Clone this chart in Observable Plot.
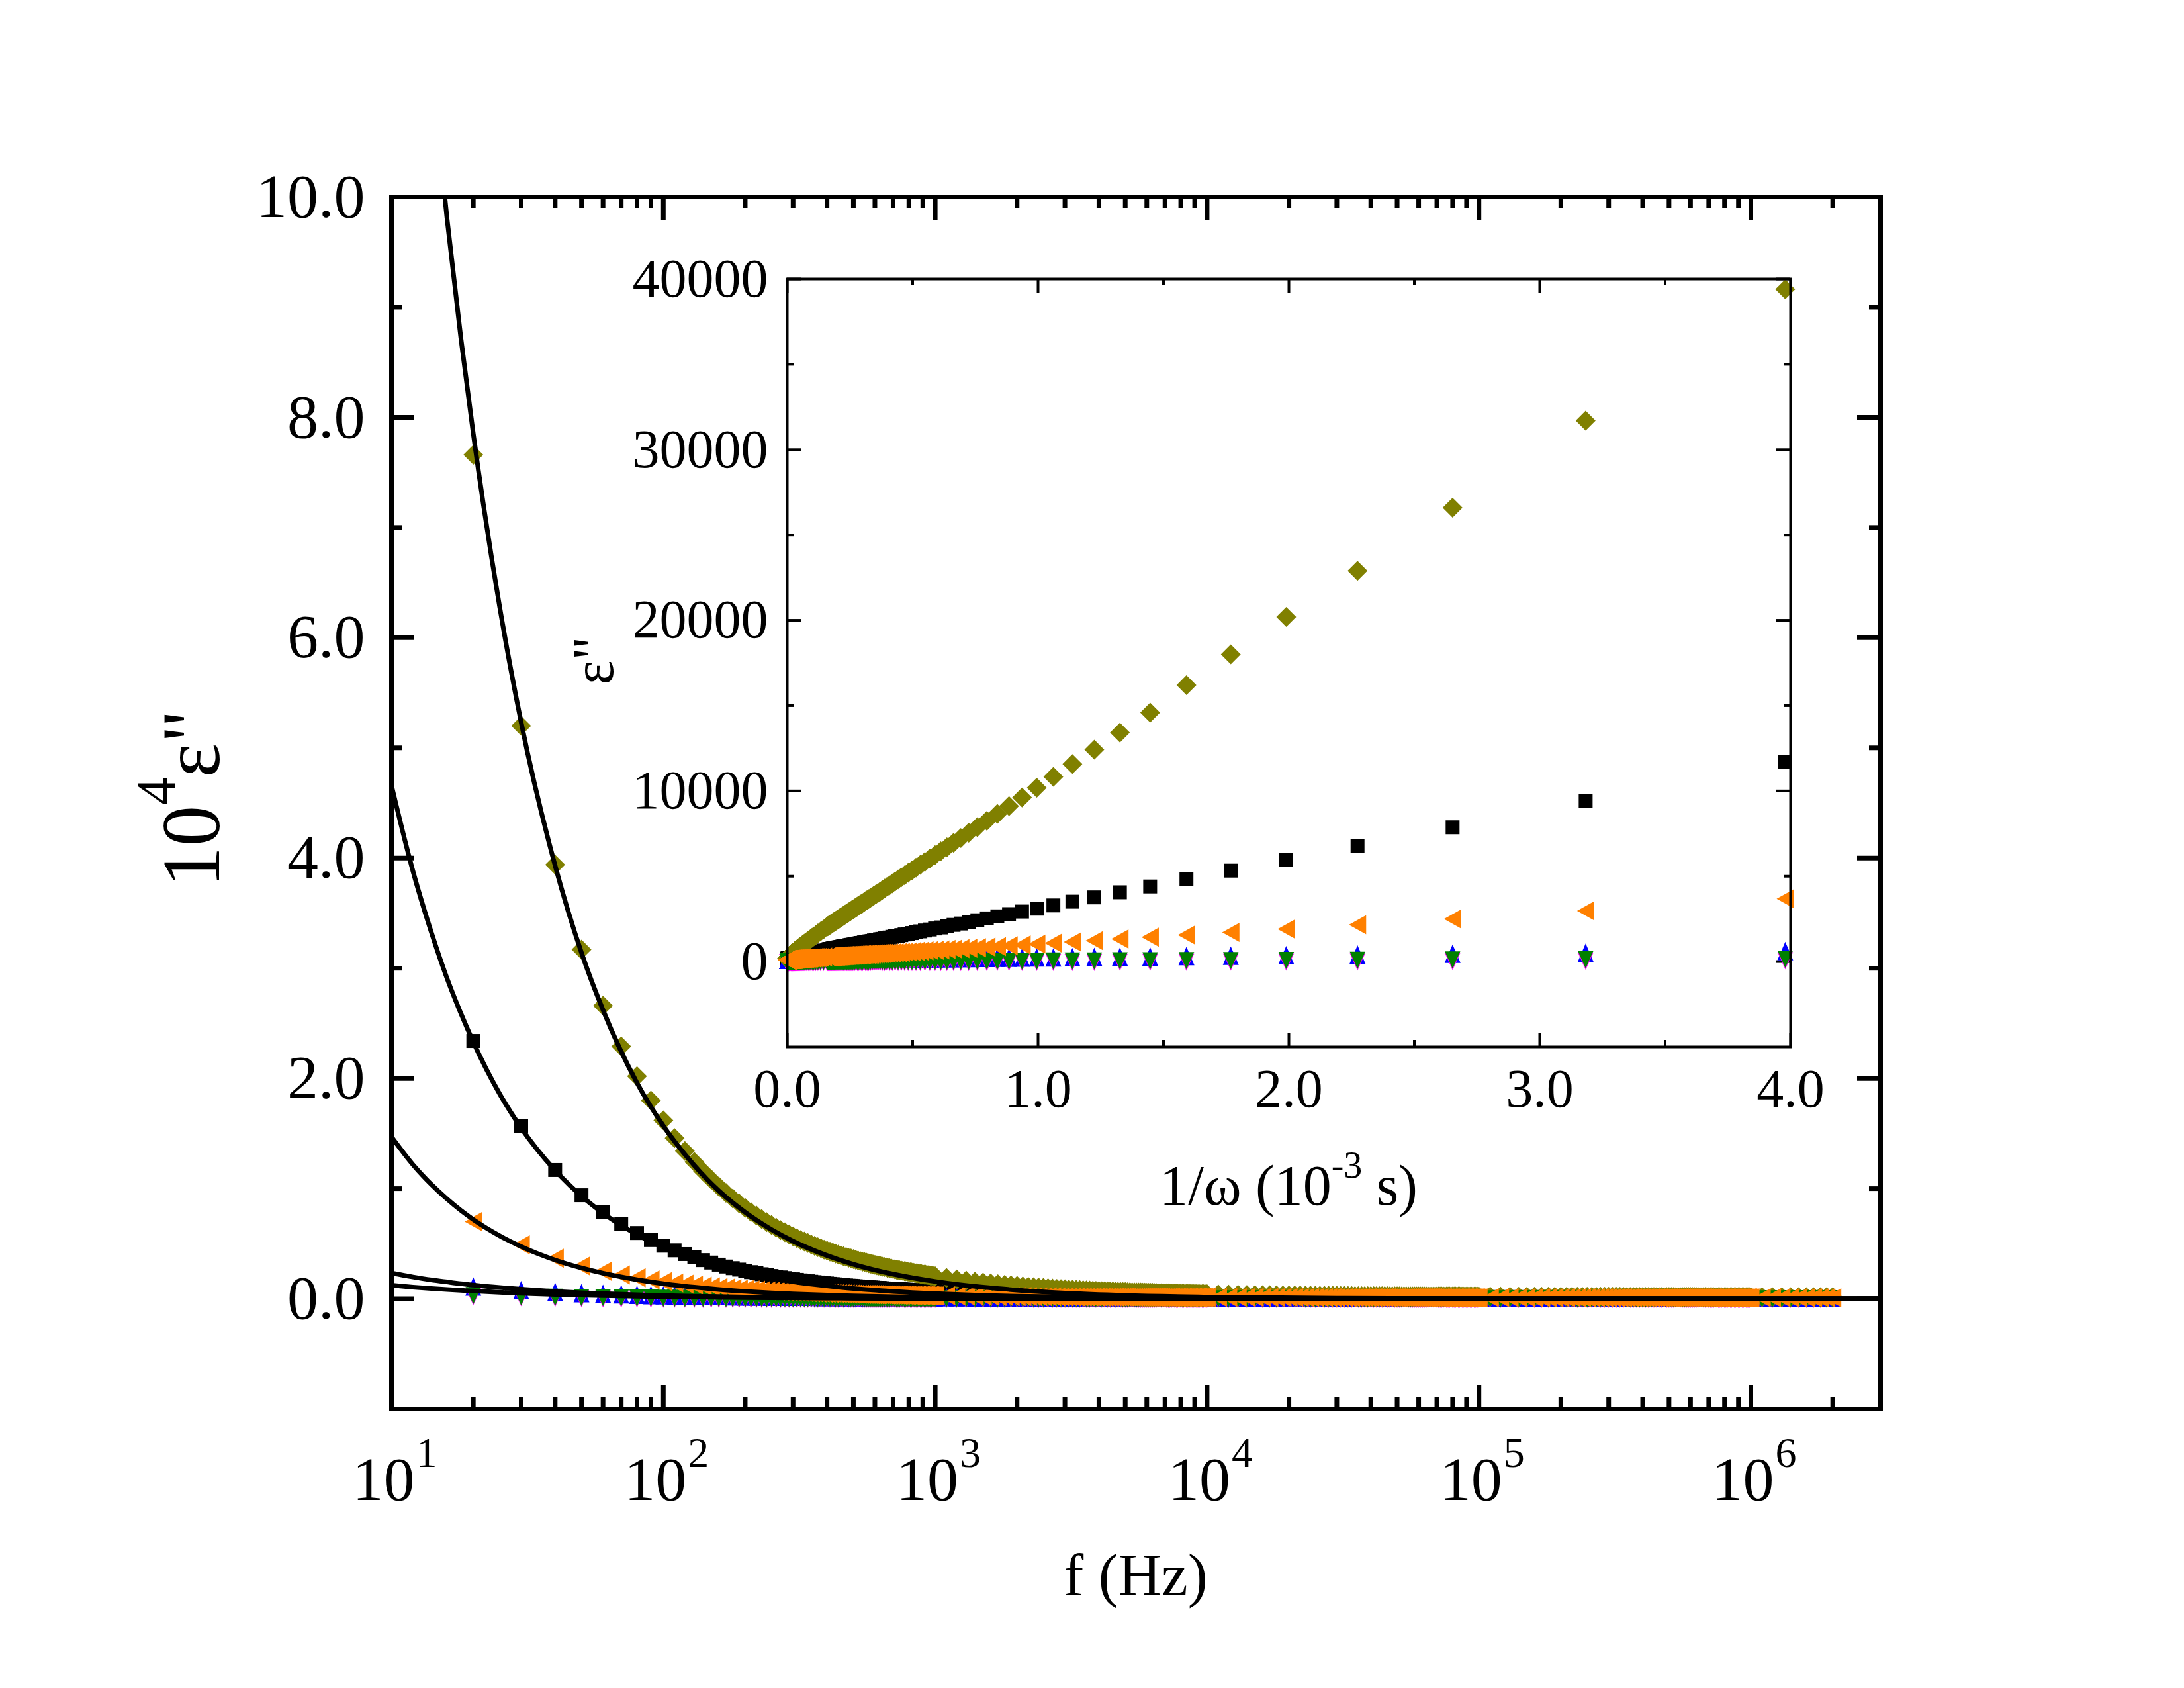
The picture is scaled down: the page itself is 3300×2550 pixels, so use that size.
<!DOCTYPE html>
<html>
<head>
<meta charset="utf-8">
<script src="https://cdn.jsdelivr.net/npm/d3@7"></script>
<script src="https://cdn.jsdelivr.net/npm/@observablehq/plot@0.6"></script>
<style>
  html, body { margin: 0; padding: 0; background: #fff; }
  #chart { position: relative; width: 3300px; height: 2550px; background: #fff; }
  #chart svg { position: absolute; left: 0; top: 0; }
</style>
</head>
<body>
<div id="chart"></div>
<script>
// ---------------------------------------------------------------------------
// Measured frequencies (Hz)
const freqHz = [
  20, 30, 40, 50, 60, 70, 80, 90, 100,
  110, 120, 130, 140, 150, 160, 170, 180, 190, 200,
  210, 220, 230, 240, 250, 260, 270, 280, 290, 300,
  310, 320, 330, 340, 350, 360, 370, 380, 390, 400,
  410, 420, 430, 440, 450, 460, 470, 480, 490, 500,
  510, 520, 530, 540, 550, 560, 570, 580, 590, 600,
  610, 620, 630, 640, 650, 660, 670, 680, 690, 700,
  710, 720, 730, 740, 750, 760, 770, 780, 790, 800,
  810, 820, 830, 840, 850, 860, 870, 880, 890, 900,
  910, 920, 930, 940, 950, 960, 970, 980, 990, 1000,
  1100, 1200, 1300, 1400, 1500, 1600, 1700, 1800, 1900, 2000,
  2100, 2200, 2300, 2400, 2500, 2600, 2700, 2800, 2900, 3000,
  3100, 3200, 3300, 3400, 3500, 3600, 3700, 3800, 3900, 4000,
  4100, 4200, 4300, 4400, 4500, 4600, 4700, 4800, 4900, 5000,
  5100, 5200, 5300, 5400, 5500, 5600, 5700, 5800, 5900, 6000,
  6100, 6200, 6300, 6400, 6500, 6600, 6700, 6800, 6900, 7000,
  7100, 7200, 7300, 7400, 7500, 7600, 7700, 7800, 7900, 8000,
  8100, 8200, 8300, 8400, 8500, 8600, 8700, 8800, 8900, 9000,
  9100, 9200, 9300, 9400, 9500, 9600, 9700, 9800, 9900, 10000,
  11000, 12000, 13000, 14000, 15000, 16000, 17000, 18000, 19000, 20000,
  21000, 22000, 23000, 24000, 25000, 26000, 27000, 28000, 29000, 30000,
  31000, 32000, 33000, 34000, 35000, 36000, 37000, 38000, 39000, 40000,
  41000, 42000, 43000, 44000, 45000, 46000, 47000, 48000, 49000, 50000,
  51000, 52000, 53000, 54000, 55000, 56000, 57000, 58000, 59000, 60000,
  61000, 62000, 63000, 64000, 65000, 66000, 67000, 68000, 69000, 70000,
  71000, 72000, 73000, 74000, 75000, 76000, 77000, 78000, 79000, 80000,
  81000, 82000, 83000, 84000, 85000, 86000, 87000, 88000, 89000, 90000,
  91000, 92000, 93000, 94000, 95000, 96000, 97000, 98000, 99000, 100000,
  110000, 120000, 130000, 140000, 150000, 160000, 170000, 180000, 190000, 200000,
  210000, 220000, 230000, 240000, 250000, 260000, 270000, 280000, 290000, 300000,
  310000, 320000, 330000, 340000, 350000, 360000, 370000, 380000, 390000, 400000,
  410000, 420000, 430000, 440000, 450000, 460000, 470000, 480000, 490000, 500000,
  510000, 520000, 530000, 540000, 550000, 560000, 570000, 580000, 590000, 600000,
  610000, 620000, 630000, 640000, 650000, 660000, 670000, 680000, 690000, 700000,
  710000, 720000, 730000, 740000, 750000, 760000, 770000, 780000, 790000, 800000,
  810000, 820000, 830000, 840000, 850000, 860000, 870000, 880000, 890000, 900000,
  910000, 920000, 930000, 940000, 950000, 960000, 970000, 980000, 990000, 1000000,
  1100000, 1200000, 1300000, 1400000, 1500000, 1600000, 1700000, 1800000, 1900000, 2000000
];

// Dielectric loss ε'' of each sample, one value per frequency above
const epsOlive = [
  76600, 52000, 39400, 31700, 26600, 22900, 20200, 18000, 16200,
  14590, 13420, 12420, 11570, 10830, 10190, 9620, 9110, 8660, 8250,
  7880, 7550, 7240, 6960, 6700, 6460, 6240, 6040, 5840, 5670,
  5500, 5340, 5200, 5060, 4930, 4810, 4690, 4580, 4470, 4380,
  4280, 4190, 4100, 4020, 3940, 3870, 3800, 3730, 3660, 3600,
  3540, 3480, 3420, 3370, 3320, 3270, 3220, 3170, 3130, 3080,
  3040, 3000, 2960, 2920, 2880, 2850, 2810, 2780, 2750, 2710,
  2680, 2650, 2620, 2590, 2570, 2540, 2510, 2490, 2460, 2440,
  2410, 2390, 2370, 2350, 2320, 2300, 2280, 2260, 2240, 2220,
  2200, 2190, 2170, 2150, 2130, 2110, 2100, 2080, 2070, 2050,
  1890, 1760, 1650, 1550, 1470, 1400, 1330, 1270, 1220, 1170,
  1130, 1090, 1050, 1020, 990, 960, 940, 910, 890, 870,
  850, 830, 810, 800, 780, 770, 750, 740, 720, 710,
  700, 690, 680, 670, 660, 650, 640, 630, 620, 620,
  610, 600, 590, 590, 580, 570, 570, 560, 560, 550,
  550, 540, 540, 530, 530, 520, 520, 510, 510, 500,
  500, 500, 490, 490, 490, 480, 480, 470, 470, 470,
  460, 460, 460, 460, 450, 450, 450, 440, 440, 440,
  440, 430, 430, 430, 430, 420, 420, 420, 420, 420,
  400, 380, 370, 350, 340, 330, 330, 320, 310, 310,
  300, 300, 290, 290, 280, 280, 270, 270, 270, 270,
  260, 260, 260, 260, 250, 250, 250, 250, 250, 240,
  240, 240, 240, 240, 240, 240, 230, 230, 230, 230,
  230, 230, 230, 230, 220, 220, 220, 220, 220, 220,
  220, 220, 220, 220, 220, 220, 210, 210, 210, 210,
  210, 210, 210, 210, 210, 210, 210, 210, 210, 210,
  210, 210, 210, 210, 210, 210, 200, 200, 200, 200,
  200, 200, 200, 200, 200, 200, 200, 200, 200, 200,
  200, 200, 190, 190, 190, 190, 190, 190, 180, 180,
  180, 180, 180, 180, 180, 180, 180, 180, 180, 180,
  180, 180, 180, 180, 170, 170, 170, 170, 170, 170,
  170, 170, 170, 170, 170, 170, 170, 170, 170, 170,
  170, 170, 170, 170, 170, 170, 170, 170, 170, 170,
  170, 170, 170, 170, 170, 170, 170, 170, 170, 160,
  160, 160, 160, 160, 160, 160, 160, 160, 160, 160,
  160, 160, 160, 160, 160, 160, 160, 160, 160, 160,
  160, 160, 160, 160, 160, 160, 160, 160, 160, 160,
  160, 160, 160, 160, 160, 160, 160, 160, 160, 160
];

const epsBlack = [
  23400, 15700, 11690, 9400, 7870, 6780, 5970, 5330, 4820,
  4400, 4060, 3760, 3510, 3290, 3100, 2930, 2780, 2650, 2530,
  2420, 2320, 2230, 2150, 2070, 2000, 1940, 1880, 1820, 1770,
  1720, 1670, 1630, 1590, 1550, 1510, 1480, 1450, 1410, 1390,
  1360, 1330, 1310, 1280, 1260, 1240, 1210, 1190, 1180, 1160,
  1140, 1120, 1100, 1090, 1070, 1060, 1040, 1030, 1020, 1000,
  990, 980, 970, 960, 940, 930, 920, 910, 900, 890,
  890, 880, 870, 860, 850, 840, 830, 830, 820, 810,
  810, 800, 790, 790, 780, 770, 770, 760, 750, 750,
  740, 740, 730, 730, 720, 720, 710, 710, 700, 700,
  650, 610, 580, 550, 530, 510, 490, 470, 460, 440,
  430, 420, 410, 400, 390, 380, 380, 370, 360, 360,
  350, 340, 340, 330, 330, 320, 320, 320, 310, 310,
  310, 300, 300, 300, 290, 290, 290, 290, 280, 280,
  280, 280, 280, 270, 270, 270, 270, 270, 260, 260,
  260, 260, 260, 260, 260, 250, 250, 250, 250, 250,
  250, 250, 250, 250, 240, 240, 240, 240, 240, 240,
  240, 240, 240, 240, 230, 230, 230, 230, 230, 230,
  230, 230, 230, 230, 230, 230, 220, 220, 220, 220,
  220, 210, 210, 210, 200, 200, 200, 200, 190, 190,
  190, 190, 190, 190, 190, 190, 180, 180, 180, 180,
  180, 180, 180, 180, 180, 180, 180, 180, 180, 180,
  180, 180, 180, 170, 170, 170, 170, 170, 170, 170,
  170, 170, 170, 170, 170, 170, 170, 170, 170, 170,
  170, 170, 170, 170, 170, 170, 170, 170, 170, 170,
  170, 170, 170, 170, 170, 170, 170, 170, 170, 170,
  170, 170, 170, 170, 170, 160, 160, 160, 160, 160,
  160, 160, 160, 160, 160, 160, 160, 160, 160, 160,
  160, 160, 160, 160, 160, 160, 160, 160, 160, 160,
  160, 160, 160, 160, 160, 160, 160, 160, 160, 160,
  160, 160, 160, 160, 160, 160, 160, 160, 160, 160,
  160, 160, 160, 160, 160, 160, 160, 160, 160, 160,
  150, 150, 150, 150, 150, 150, 150, 150, 150, 150,
  150, 150, 150, 150, 150, 150, 150, 150, 150, 150,
  150, 150, 150, 150, 150, 150, 150, 150, 150, 150,
  150, 150, 150, 150, 150, 150, 150, 150, 150, 150,
  150, 150, 150, 150, 150, 150, 150, 150, 150, 150,
  150, 150, 150, 150, 150, 150, 150, 150, 150, 150
];

const epsOrange = [
  7000, 4900, 3680, 2970, 2500, 2160, 1910, 1710, 1560,
  1430, 1320, 1230, 1150, 1080, 1020, 970, 930, 880, 850,
  810, 780, 760, 730, 710, 680, 660, 650, 630, 610,
  600, 580, 570, 560, 540, 530, 520, 510, 500, 490,
  490, 480, 470, 460, 450, 450, 440, 430, 430, 420,
  420, 410, 410, 400, 400, 390, 390, 380, 380, 380,
  370, 370, 360, 360, 360, 350, 350, 350, 350, 340,
  340, 340, 330, 330, 330, 330, 320, 320, 320, 320,
  310, 310, 310, 310, 310, 300, 300, 300, 300, 300,
  300, 290, 290, 290, 290, 290, 290, 280, 280, 280,
  270, 250, 240, 240, 230, 220, 210, 210, 200, 200,
  200, 190, 190, 180, 180, 180, 180, 170, 170, 170,
  170, 170, 170, 160, 160, 160, 160, 160, 160, 160,
  150, 150, 150, 150, 150, 150, 150, 150, 150, 150,
  150, 140, 140, 140, 140, 140, 140, 140, 140, 140,
  140, 140, 140, 140, 140, 140, 140, 140, 130, 130,
  130, 130, 130, 130, 130, 130, 130, 130, 130, 130,
  130, 130, 130, 130, 130, 130, 130, 130, 130, 130,
  130, 130, 130, 130, 130, 130, 130, 130, 130, 130,
  130, 120, 120, 120, 120, 120, 120, 120, 120, 120,
  120, 110, 110, 110, 110, 110, 110, 110, 110, 110,
  110, 110, 110, 110, 110, 110, 110, 110, 110, 110,
  110, 110, 110, 110, 110, 110, 110, 110, 110, 110,
  110, 110, 110, 110, 110, 110, 110, 110, 110, 110,
  110, 110, 110, 110, 110, 110, 110, 110, 110, 110,
  100, 100, 100, 100, 100, 100, 100, 100, 100, 100,
  100, 100, 100, 100, 100, 100, 100, 100, 100, 100,
  100, 100, 100, 100, 100, 100, 100, 100, 100, 100,
  100, 100, 100, 100, 100, 100, 100, 100, 100, 100,
  100, 100, 100, 100, 100, 100, 100, 100, 100, 100,
  100, 100, 100, 100, 100, 100, 100, 100, 100, 100,
  100, 100, 100, 100, 100, 100, 100, 100, 100, 100,
  100, 100, 100, 100, 100, 100, 100, 100, 100, 100,
  100, 100, 100, 100, 100, 100, 100, 100, 100, 100,
  100, 100, 100, 100, 100, 100, 100, 100, 100, 100,
  100, 100, 100, 100, 100, 100, 100, 100, 100, 100,
  100, 100, 100, 100, 100, 100, 100, 100, 100, 100,
  100, 100, 100, 100, 100, 100, 100, 100, 100, 100
];

const epsBlue = [
  1120, 790, 620, 520, 460, 410, 370, 340, 320,
  300, 290, 280, 260, 250, 250, 240, 230, 230, 220,
  220, 210, 210, 200, 200, 200, 190, 190, 190, 190,
  180, 180, 180, 180, 180, 180, 170, 170, 170, 170,
  170, 170, 170, 170, 160, 160, 160, 160, 160, 160,
  160, 160, 160, 160, 160, 160, 150, 150, 150, 150,
  150, 150, 150, 150, 150, 150, 150, 150, 150, 150,
  150, 150, 150, 150, 150, 150, 150, 150, 150, 150,
  140, 140, 140, 140, 140, 140, 140, 140, 140, 140,
  140, 140, 140, 140, 140, 140, 140, 140, 140, 140,
  140, 140, 140, 130, 130, 130, 130, 130, 130, 130,
  130, 130, 130, 130, 130, 130, 130, 130, 130, 130,
  120, 120, 120, 120, 120, 120, 120, 120, 120, 120,
  120, 120, 120, 120, 120, 120, 120, 120, 120, 120,
  120, 120, 120, 120, 120, 120, 120, 120, 120, 120,
  120, 120, 120, 120, 120, 120, 120, 120, 120, 120,
  120, 120, 120, 120, 120, 120, 120, 120, 120, 120,
  120, 120, 120, 120, 120, 120, 120, 120, 120, 120,
  120, 120, 120, 120, 120, 120, 120, 120, 120, 120,
  120, 120, 120, 120, 120, 120, 120, 120, 120, 120,
  120, 120, 120, 120, 120, 120, 120, 120, 120, 120,
  120, 120, 120, 120, 120, 120, 120, 120, 120, 120,
  120, 120, 120, 120, 120, 120, 120, 120, 120, 120,
  120, 120, 120, 120, 120, 120, 120, 120, 120, 120,
  120, 120, 120, 120, 120, 120, 120, 120, 120, 120,
  120, 120, 120, 120, 120, 120, 120, 120, 120, 120,
  120, 120, 120, 120, 120, 120, 120, 120, 120, 120,
  120, 120, 120, 120, 120, 120, 120, 120, 120, 120,
  120, 120, 120, 120, 120, 120, 120, 120, 120, 120,
  120, 120, 120, 120, 120, 120, 120, 120, 120, 120,
  120, 120, 120, 120, 120, 120, 120, 120, 120, 120,
  120, 120, 120, 120, 120, 120, 120, 120, 120, 120,
  120, 120, 120, 120, 120, 120, 120, 120, 120, 120,
  120, 120, 120, 120, 120, 120, 120, 120, 120, 120,
  120, 120, 120, 120, 120, 120, 120, 120, 120, 120,
  120, 120, 120, 120, 120, 120, 120, 120, 120, 120,
  120, 120, 120, 120, 120, 120, 120, 120, 120, 120,
  120, 120, 120, 120, 120, 120, 120, 120, 120, 120
];

const epsMagenta = [
  180, 90, 40, 10, -10, -20, -30, -35, -40,
  -45, -48, -50, -52, -54, -55, -56, -57, -58, -59,
  -60, -60, -60, -60, -60, -60, -60, -60, -60, -60,
  -60, -60, -60, -60, -60, -60, -60, -60, -60, -60,
  -60, -60, -60, -60, -60, -60, -60, -60, -60, -60,
  -60, -60, -60, -60, -60, -60, -60, -60, -60, -60,
  -60, -60, -60, -60, -60, -60, -60, -60, -60, -60,
  -60, -60, -60, -60, -60, -60, -60, -60, -60, -60,
  -60, -60, -60, -60, -60, -60, -60, -60, -60, -60,
  -60, -60, -60, -60, -60, -60, -60, -60, -60, -60,
  -60, -60, -60, -60, -60, -60, -60, -60, -60, -60,
  -60, -60, -60, -60, -60, -60, -60, -60, -60, -60,
  -60, -60, -60, -60, -60, -60, -60, -60, -60, -60,
  -60, -60, -60, -60, -60, -60, -60, -60, -60, -60,
  -60, -60, -60, -60, -60, -60, -60, -60, -60, -60,
  -60, -60, -60, -60, -60, -60, -60, -60, -60, -60,
  -60, -60, -60, -60, -60, -60, -60, -60, -60, -60,
  -60, -60, -60, -60, -60, -60, -60, -60, -60, -60,
  -60, -60, -60, -60, -60, -60, -60, -60, -60, -60,
  -60, -60, -60, -60, -60, -60, -60, -60, -60, -60,
  -60, -60, -60, -60, -60, -60, -60, -60, -60, -60,
  -60, -60, -60, -60, -60, -60, -60, -60, -60, -60,
  -60, -60, -60, -60, -60, -60, -60, -60, -60, -60,
  -60, -60, -60, -60, -60, -60, -60, -60, -60, -60,
  -60, -60, -60, -60, -60, -60, -60, -60, -60, -60,
  -60, -60, -60, -60, -60, -60, -60, -60, -60, -60,
  -60, -60, -60, -60, -60, -60, -60, -60, -60, -60,
  -60, -60, -60, -60, -60, -60, -60, -60, -60, -60,
  -60, -60, -60, -60, -60, -60, -60, -60, -60, -60,
  -60, -60, -60, -60, -60, -60, -60, -60, -60, -60,
  -60, -60, -60, -60, -60, -60, -60, -60, -60, -60,
  -60, -60, -60, -60, -60, -60, -60, -60, -60, -60,
  -60, -60, -60, -60, -60, -60, -60, -60, -60, -60,
  -60, -60, -60, -60, -60, -60, -60, -60, -60, -60,
  -60, -60, -60, -60, -60, -60, -60, -60, -60, -60,
  -60, -60, -60, -60, -60, -60, -60, -60, -60, -60,
  -60, -60, -60, -60, -60, -60, -60, -60, -60, -60,
  -60, -60, -60, -60, -60, -60, -60, -60, -60, -60
];

const epsGreen = [
  290, 190, 140, 110, 90, 76, 65, 57, 50,
  45, 40, 36, 33, 30, 28, 25, 23, 22, 20,
  19, 17, 16, 15, 14, 13, 12, 11, 11, 10,
  9, 9, 8, 8, 7, 7, 6, 6, 5, 5,
  5, 4, 4, 4, 3, 3, 3, 3, 2, 2,
  2, 2, 1, 1, 1, 1, 1, 0, 0, 0,
  0, 0, 0, 0, -1, -1, -1, -1, -1, -1,
  -2, -2, -2, -2, -2, -2, -2, -2, -2, -2,
  -3, -3, -3, -3, -3, -3, -3, -3, -3, -3,
  -3, -3, -3, -4, -4, -4, -4, -4, -4, -4,
  -5, -5, -5, -5, -5, -5, -5, -5, -5, -5,
  -8, -8, -8, -8, -8, -8, -8, -8, -8, -8,
  -8, -8, -8, -8, -8, -8, -8, -8, -8, -8,
  -8, -8, -8, -8, -8, -8, -8, -8, -8, -8,
  -10, -10, -10, -10, -10, -10, -10, -10, -10, -10,
  -10, -10, -10, -10, -10, -10, -10, -10, -10, -10,
  -10, -10, -10, -10, -10, -10, -10, -10, -10, -10,
  -10, -10, -10, -10, -10, -10, -10, -10, -10, -10,
  -10, -10, -10, -10, -10, -10, -10, -10, -10, -10,
  -10, -10, -10, -10, -10, -10, -10, -10, -10, -10,
  -10, -10, -10, -10, -10, -10, -10, -10, -10, -10,
  -10, -10, -10, -10, -10, -10, -10, -10, -10, -10,
  -10, -10, -10, -10, -10, -10, -10, -10, -10, -10,
  -10, -10, -10, -10, -10, -10, -10, -10, -10, -10,
  -10, -10, -10, -10, -10, -10, -10, -10, -10, -10,
  -10, -10, -10, -10, -10, -10, -10, -10, -10, -10,
  -10, -10, -10, -10, -10, -10, -10, -10, -10, -10,
  -10, -10, -10, -10, -10, -10, -10, -10, -10, -10,
  -10, -10, -10, -10, -10, -10, -10, -10, -10, -10,
  -10, -10, -10, -10, -10, -10, -10, -10, -10, -10,
  -10, -10, -10, -10, -10, -10, -10, -10, -10, -10,
  -10, -10, -10, -10, -10, -10, -10, -10, -10, -10,
  -10, -10, -10, -10, -10, -10, -10, -10, -10, -10,
  -10, -10, -10, -10, -10, -10, -10, -10, -10, -10,
  -10, -10, -10, -10, -10, -10, -10, -10, -10, -10,
  -10, -10, -10, -10, -10, -10, -10, -10, -10, -10,
  -10, -10, -10, -10, -10, -10, -10, -10, -10, -10,
  -10, -10, -10, -10, -10, -10, -10, -10, -10, -10
];

// Fitted curves, in units of 10^4 ε'', sampled at fitFreqHz
const fitFreqHz = [10, 12, 14, 16, 18, 20, 25, 30, 40, 50, 60, 80, 100, 130, 160, 200, 250, 300,
  400, 500, 700, 1000, 1500, 2000, 3000, 5000, 10000, 30000, 100000, 1000000, 3000000];
const fitOlive = [15.7, 13.08, 11.21, 9.81, 8.72, 7.85, 6.28, 5.23, 3.93, 3.14, 2.62, 1.96, 1.57, 1.21, 0.98,
  0.785, 0.628, 0.523, 0.393, 0.314, 0.224, 0.157, 0.105, 0.079, 0.052, 0.031, 0.016, 0.005, 0.002, 0, 0];
const fitBlack = [4.66, 3.88, 3.33, 2.91, 2.59, 2.33, 1.86, 1.55, 1.165, 0.932, 0.777, 0.583, 0.466, 0.358, 0.291,
  0.233, 0.186, 0.155, 0.117, 0.093, 0.067, 0.047, 0.031, 0.023, 0.016, 0.009, 0.005, 0.002, 0, 0, 0];
const fitOrange = [1.47, 1.217, 1.039, 0.906, 0.802, 0.719, 0.572, 0.474, 0.352, 0.280, 0.232, 0.173, 0.137, 0.105,
  0.0846, 0.0671, 0.0533, 0.0442, 0.0329, 0.0262, 0.0185, 0.0128, 0.0084, 0.0063, 0.0041, 0.0024, 0.0012, 0.0004, 0.0001, 0, 0];
const fitBlue = [0.233, 0.198, 0.172, 0.153, 0.137, 0.125, 0.102, 0.0867, 0.0669, 0.0547, 0.0465, 0.0359, 0.0293, 0.0232,
  0.0192, 0.0157, 0.0129, 0.0109, 0.0084, 0.0069, 0.0051, 0.0037, 0.0026, 0.0020, 0.0014, 0.0009, 0.0005, 0.0002, 0.0001, 0, 0];
const fitGreen = [0.123, 0.106, 0.0937, 0.0841, 0.0764, 0.0702, 0.0586, 0.0505, 0.0400, 0.0334, 0.0288, 0.0228, 0.0191,
  0.0154, 0.0130, 0.0109, 0.0091, 0.0078, 0.0062, 0.0052, 0.0039, 0.0030, 0.0021, 0.0017, 0.0012, 0.0008, 0.0005, 0.0002, 0.0001, 0, 0];

// Tick values
const mainXExponents = [1, 2, 3, 4, 5, 6];
const mainXMinor = [20, 30, 40, 50, 60, 70, 80, 90, 200, 300, 400, 500, 600, 700, 800, 900,
  2000, 3000, 4000, 5000, 6000, 7000, 8000, 9000, 20000, 30000, 40000, 50000, 60000, 70000, 80000, 90000,
  200000, 300000, 400000, 500000, 600000, 700000, 800000, 900000, 2000000];
const mainYMajor = [0, 2, 4, 6, 8, 10];
const mainYMinor = [1, 3, 5, 7, 9];
const insetXMajor = [0, 1, 2, 3, 4];
const insetXMinor = [0.5, 1.5, 2.5, 3.5];
const insetYMajor = [0, 10000, 20000, 30000, 40000];
const insetYMinor = [5000, 15000, 25000, 35000];

// ---------------------------------------------------------------------------
const FONT = "'Liberation Serif', 'Times New Roman', serif";
const W = 3300, H = 2550;

// Marker shapes (r is the half-extent of the marker)
const half = (size) => Math.sqrt(size / Math.PI);
const SQUARE = {draw(c, s) { const r = half(s); c.moveTo(-r, -r); c.lineTo(r, -r); c.lineTo(r, r); c.lineTo(-r, r); c.closePath(); }};
const DIAMOND = {draw(c, s) { const r = half(s); c.moveTo(0, -r); c.lineTo(r, 0); c.lineTo(0, r); c.lineTo(-r, 0); c.closePath(); }};
const TRI_UP = {draw(c, s) { const r = half(s); c.moveTo(0, -r); c.lineTo(0.86 * r, r); c.lineTo(-0.86 * r, r); c.closePath(); }};
const TRI_DOWN = {draw(c, s) { const r = half(s); c.moveTo(0, r); c.lineTo(0.9 * r, -r); c.lineTo(-0.9 * r, -r); c.closePath(); }};
const TRI_LEFT = {draw(c, s) { const r = half(s); c.moveTo(-0.9 * r, 0); c.lineTo(0.9 * r, -r); c.lineTo(0.9 * r, r); c.closePath(); }};

// Drawing order: later series lie on top
const series = [
  {eps: epsBlack, color: "#000000", symbol: SQUARE, r: 10.5},
  {eps: epsBlue, color: "#0000FF", symbol: TRI_UP, r: 14},
  {eps: epsMagenta, color: "#FF00FF", symbol: TRI_DOWN, r: 13},
  {eps: epsOlive, color: "#808000", symbol: DIAMOND, r: 15},
  {eps: epsGreen, color: "#008000", symbol: TRI_DOWN, r: 13},
  {eps: epsOrange, color: "#FF8000", symbol: TRI_LEFT, r: 14.5}
];
const seriesRows = series.map((s) => freqHz.map((f, i) => ({
  f,
  eps: s.eps[i],
  invOmegaMs: 1000 / (2 * Math.PI * f)
})));
const fitRows = [fitOlive, fitBlack, fitOrange, fitBlue, fitGreen]
  .map((vals) => fitFreqHz.map((f, i) => ({f, v: vals[i]})));

// Inward ticks on all four sides of a frame
function frameTicks(values, axis, len, fw, fh, sw) {
  const o = {stroke: "black", strokeWidth: sw};
  if (axis === "y") return [
    Plot.ruleY(values, {...o, y: (d) => d, insetRight: fw - len}),
    Plot.ruleY(values, {...o, y: (d) => d, insetLeft: fw - len})
  ];
  return [
    Plot.ruleX(values, {...o, x: (d) => d, insetTop: fh - len}),
    Plot.ruleX(values, {...o, x: (d) => d, insetBottom: fh - len})
  ];
}

// Text with superscripts, built from tspans
function richText(svg, {x, y, rotate = 0, size, parts}) {
  const t = d3.select(svg).append("text")
    .attr("transform", `translate(${x},${y}) rotate(${rotate})`)
    .attr("text-anchor", "middle")
    .attr("font-family", FONT)
    .attr("font-size", size)
    .attr("fill", "black")
    .style("white-space", "pre");
  let shift = 0;
  for (const p of parts) {
    const s = t.append("tspan").text(p.text);
    if (p.size) s.attr("font-size", p.size);
    const raise = p.raise || 0;
    if (raise !== shift) { s.attr("dy", shift - raise); shift = raise; }
  }
}

// ---------------------------------------------------------------------------
// Main panel: 10^4 ε'' versus frequency
const M = {left: 591, right: 459, top: 297, bottom: 422};
const MW = W - M.left - M.right, MH = H - M.top - M.bottom;

const main = Plot.plot({
  width: W, height: H,
  marginLeft: M.left, marginRight: M.right, marginTop: M.top, marginBottom: M.bottom,
  style: {background: "transparent", fontFamily: FONT, color: "black", overflow: "visible"},
  x: {type: "log", domain: [10, 3e6], axis: null},
  y: {domain: [-1, 10], axis: null},
  marks: [
    ...frameTicks(mainYMajor, "y", 35, MW, MH, 7),
    ...frameTicks(mainYMinor, "y", 17, MW, MH, 7),
    ...frameTicks(mainXExponents.map((e) => 10 ** e), "x", 36, MW, MH, 7),
    ...frameTicks(mainXMinor, "x", 17, MW, MH, 7),
    ...series.map((s, k) => Plot.dot(seriesRows[k], {
      x: "f", y: (d) => d.eps / 1e4, symbol: s.symbol, r: s.r, fill: s.color, stroke: null
    })),
    ...fitRows.map((rows) => Plot.line(rows, {
      x: "f", y: "v", stroke: "black", strokeWidth: 7, curve: "monotone-x", clip: true
    })),
    Plot.frame({stroke: "black", strokeWidth: 7}),
    Plot.text(mainYMajor, {
      y: (d) => d, text: (d) => d.toFixed(1), frameAnchor: "left", dx: -40,
      textAnchor: "end", fontSize: 94, fill: "black"
    }),
    Plot.text(mainXExponents, {
      x: (e) => 10 ** e, text: () => "10", frameAnchor: "bottom", dx: 35, dy: 137,
      textAnchor: "end", lineAnchor: "bottom", fontSize: 94, fill: "black"
    }),
    Plot.text(mainXExponents, {
      x: (e) => 10 ** e, text: (e) => String(e), frameAnchor: "bottom", dx: 37, dy: 87,
      textAnchor: "start", lineAnchor: "bottom", fontSize: 64, fill: "black"
    })
  ]
});

richText(main, {x: M.left + MW / 2, y: 2410, size: 90, parts: [{text: "f (Hz)"}]});
richText(main, {
  x: 331, y: M.top + MH / 2 - 6, rotate: -90, size: 124,
  parts: [{text: "10"}, {text: "4", size: 84, raise: 66}, {text: "ε\""}]
});

// ---------------------------------------------------------------------------
// Inset: ε'' versus 1/ω
const I = {left: 1189, right: 595, top: 421, bottom: 969};
const IW = W - I.left - I.right, IH = H - I.top - I.bottom;

const inset = Plot.plot({
  width: W, height: H,
  marginLeft: I.left, marginRight: I.right, marginTop: I.top, marginBottom: I.bottom,
  style: {background: "transparent", fontFamily: FONT, color: "black", overflow: "visible"},
  x: {domain: [0, 4], axis: null},
  y: {domain: [-5000, 40000], axis: null},
  marks: [
    ...frameTicks(insetYMajor, "y", 21, IW, IH, 4),
    ...frameTicks(insetYMinor, "y", 10, IW, IH, 4),
    ...frameTicks(insetXMajor, "x", 21, IW, IH, 4),
    ...frameTicks(insetXMinor, "x", 10, IW, IH, 4),
    ...series.map((s, k) => Plot.dot(seriesRows[k], {
      filter: (d) => d.invOmegaMs <= 4.02,
      x: "invOmegaMs", y: "eps", symbol: s.symbol, r: s.r, fill: s.color, stroke: null
    })),
    Plot.frame({stroke: "black", strokeWidth: 4}),
    Plot.text(insetYMajor, {
      y: (d) => d, text: (d) => String(d), frameAnchor: "left", dx: -29,
      textAnchor: "end", fontSize: 82, fill: "black"
    }),
    Plot.text(insetXMajor, {
      x: (d) => d, text: (d) => d.toFixed(1), frameAnchor: "bottom", dy: 90,
      lineAnchor: "bottom", fontSize: 82, fill: "black"
    })
  ]
});

richText(inset, {
  x: I.left + IW / 2, y: 1820, size: 86,
  parts: [{text: "1/ω (10"}, {text: "-3", size: 56, raise: 41}, {text: " s)"}]
});
richText(inset, {x: 926, y: 998, rotate: -90, size: 88, parts: [{text: "ε\""}]});

const chart = document.getElementById("chart");
chart.appendChild(main);
chart.appendChild(inset);
</script>
</body>
</html>
